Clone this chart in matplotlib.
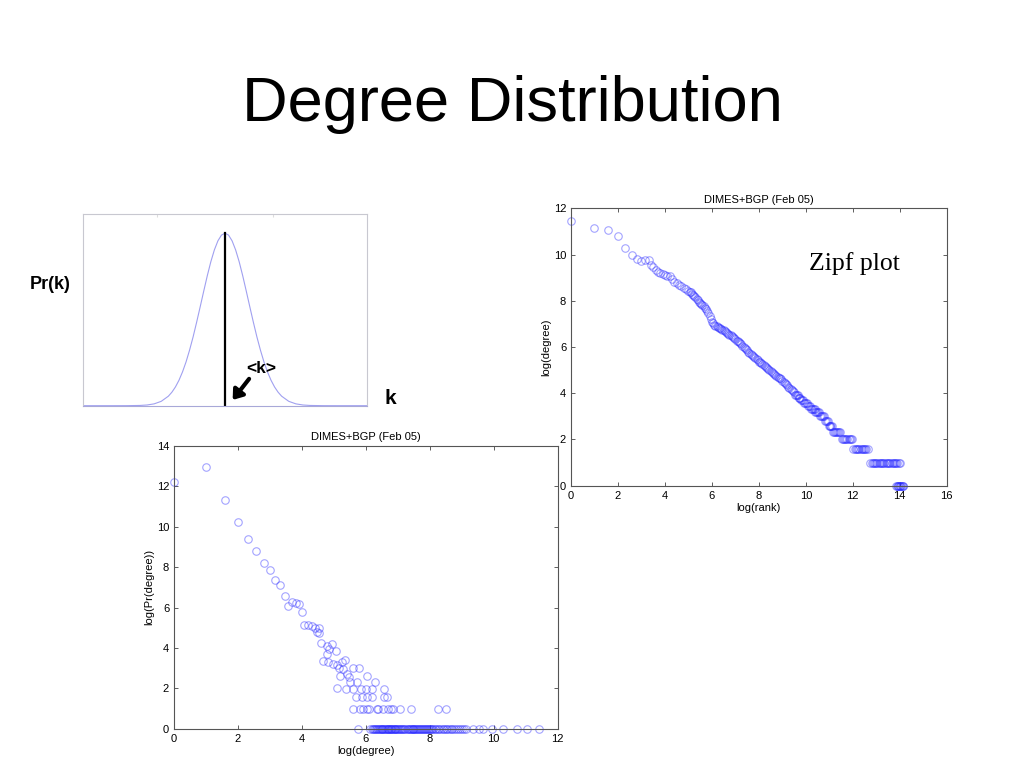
import matplotlib
matplotlib.use("Agg")
import matplotlib.pyplot as plt

plt.rcParams['font.family'] = ['Liberation Sans', 'DejaVu Sans']

# ---------------- data ----------------
# schematic bell curve (top-left panel)
gauss_k = [0.0, 1.0, 1.5, 2.0, 2.25, 2.5, 2.75, 3.0, 3.125, 3.25, 3.375, 3.5, 3.625, 3.75, 3.875,
           4.0, 4.125, 4.25, 4.375, 4.5, 4.625, 4.75, 4.875, 5.0, 5.125, 5.25, 5.375, 5.5, 5.625,
           5.75, 5.875, 6.0, 6.125, 6.25, 6.375, 6.5, 6.625, 6.75, 6.875, 7.0, 7.25, 7.5, 7.75,
           8.0, 8.5, 9.0, 10.0]
gauss_p = [0.0, 0.0, 0.0001, 0.0013, 0.0037, 0.0096, 0.0228, 0.0494, 0.0702, 0.0975, 0.1324,
           0.176, 0.2282, 0.290, 0.3592, 0.436, 0.5163, 0.598, 0.6779, 0.751, 0.8127, 0.860,
           0.8899, 0.900, 0.8899, 0.860, 0.8127, 0.751, 0.6779, 0.598, 0.5163, 0.436, 0.3592,
           0.290, 0.2282, 0.176, 0.1324, 0.0975, 0.0702, 0.0494, 0.0228, 0.0096, 0.0037,
           0.0013, 0.0001, 0.0, 0.0]
mean_k = 5.0

# Zipf plot: log(rank) vs log(degree) -- upper, sparse part
zipf_head_rank = [0.00, 1.00, 1.58, 2.00, 2.32, 2.58, 2.81, 3.00, 3.17, 3.32,
                  3.40, 3.50, 3.60, 3.70, 3.80, 3.90, 4.00, 4.10, 4.20, 4.30,
                  4.40, 4.50, 4.60, 4.70, 4.80, 4.90]
zipf_head_degree = [11.46, 11.15, 11.08, 10.79, 10.30, 9.97, 9.82, 9.72, 9.75, 9.75,
                    9.55, 9.45, 9.33, 9.24, 9.18, 9.14, 9.11, 9.09, 9.05, 8.93,
                    8.83, 8.75, 8.68, 8.62, 8.55, 8.49]
# dense middle part
zipf_body_rank = [
    5.00, 5.05, 5.10, 5.15, 5.20, 5.25, 5.30, 5.35, 5.40, 5.45,
    5.50, 5.55, 5.60, 5.65, 5.70, 5.75, 5.80, 5.85, 5.90, 5.95,
    6.00, 6.05, 6.10, 6.15, 6.20, 6.25, 6.30, 6.35, 6.40, 6.45,
    6.50, 6.55, 6.60, 6.65, 6.70, 6.75, 6.80, 6.85, 6.90, 6.95,
    7.00, 7.05, 7.10, 7.15, 7.20, 7.25, 7.30, 7.35, 7.40, 7.45,
    7.50, 7.55, 7.60, 7.65, 7.70, 7.75, 7.80, 7.85, 7.90, 7.95,
    8.00, 8.05, 8.10, 8.15, 8.20, 8.25, 8.30, 8.35, 8.40, 8.45,
    8.50, 8.55, 8.60, 8.65, 8.70, 8.75, 8.80, 8.85, 8.90, 8.95,
    9.00, 9.05, 9.10, 9.15, 9.20, 9.25, 9.30, 9.35, 9.40, 9.45, 9.50,
]
zipf_body_degree = [
    8.44, 8.40, 8.36, 8.31, 8.26, 8.21, 8.15, 8.09, 8.02, 7.95,
    7.89, 7.85, 7.81, 7.76, 7.70, 7.64, 7.57, 7.47, 7.36, 7.22,
    7.08, 7.02, 6.97, 6.93, 6.90, 6.87, 6.84, 6.81, 6.78, 6.75,
    6.72, 6.69, 6.65, 6.61, 6.57, 6.54, 6.50, 6.46, 6.42, 6.38,
    6.33, 6.28, 6.24, 6.20, 6.16, 6.11, 6.06, 6.01, 5.96, 5.90,
    5.85, 5.80, 5.75, 5.70, 5.66, 5.61, 5.57, 5.52, 5.47, 5.42,
    5.37, 5.33, 5.29, 5.25, 5.21, 5.17, 5.13, 5.09, 5.05, 5.01,
    4.97, 4.92, 4.88, 4.84, 4.80, 4.76, 4.72, 4.68, 4.64, 4.60,
    4.55, 4.50, 4.45, 4.40, 4.34, 4.29, 4.24, 4.19, 4.14, 4.09, 4.04,
]
# tail: integer-degree steps (level -> ranks on that level)
zipf_tail_levels = [3.91, 3.81, 3.70, 3.58, 3.46, 3.32, 3.17, 3.00, 2.81, 2.58, 2.32, 2.00, 1.58,
                    1.00, 0.00]
zipf_tail_ranks = [
    [9.53, 9.57, 9.61, 9.65],
    [9.69, 9.73, 9.77],
    [9.81, 9.85, 9.89],
    [9.93, 9.97, 10.01, 10.05],
    [10.09, 10.13, 10.17],
    [10.21, 10.25, 10.29, 10.33, 10.37],
    [10.41, 10.45, 10.49, 10.53, 10.57],
    [10.61, 10.65, 10.69, 10.73, 10.77],
    [10.81, 10.85, 10.89, 10.93],
    [10.97, 11.01, 11.05, 11.09, 11.13],
    [11.17, 11.21, 11.25, 11.29, 11.33, 11.37, 11.41, 11.45],
    [11.52, 11.57, 11.62, 11.67, 11.72, 11.77, 11.82, 11.87, 11.92, 11.97],
    [12.03, 12.08, 12.13, 12.18, 12.23, 12.28, 12.33, 12.38, 12.43, 12.48, 12.53, 12.58, 12.63],
    [12.75, 12.80, 12.85, 12.90, 12.95, 13.00, 13.05, 13.10, 13.15, 13.20, 13.25, 13.30, 13.35,
     13.40, 13.45, 13.50, 13.55, 13.60, 13.65, 13.70, 13.75, 13.80, 13.85, 13.90, 13.95, 14.00],
    [13.85, 13.88, 13.91, 13.94, 13.97, 14.00, 14.03, 14.06, 14.09, 14.12, 14.15],
]

# Degree distribution: log(degree) vs log(Pr(degree)) -- scattered points
dist_log_degree = [
    0.00, 1.00, 1.58, 2.00, 2.32, 2.58, 2.81, 3.00, 3.17, 3.32, 3.46, 3.58, 3.70, 3.81, 3.91, 4.00,
    4.07, 4.20, 4.31, 4.41, 4.52, 4.46, 4.55, 4.59, 4.80, 4.93, 4.86, 5.07, 4.78,
    4.67, 4.83, 4.96, 5.09, 5.24, 5.35, 5.17, 5.30, 5.61, 5.79,
    5.19, 5.42, 5.48, 6.03, 5.51, 5.72, 6.29,
    5.11, 5.38, 5.59, 5.84, 6.00, 6.18, 6.58,
    5.69, 5.87, 6.03, 6.18, 6.58, 6.67,
]
dist_log_pr = [
    12.20, 12.95, 11.33, 10.22, 9.38, 8.80, 8.22, 7.85, 7.37, 7.10, 6.59, 6.09, 6.28, 6.23, 6.16, 5.80,
    5.14, 5.14, 5.07, 4.97, 4.97, 4.78, 4.72, 4.23, 4.11, 4.18, 3.95, 3.85, 3.69,
    3.36, 3.32, 3.19, 3.16, 3.32, 3.39, 3.02, 2.96, 2.99, 2.99,
    2.63, 2.73, 2.58, 2.61, 2.30, 2.30, 2.30,
    2.00, 1.97, 1.97, 1.97, 1.97, 1.97, 1.97,
    1.58, 1.58, 1.58, 1.58, 1.58, 1.58,
]
# degrees seen twice (log Pr = 1) and once (log Pr = 0)
dist_row_twice = [5.61, 5.82, 5.92, 6.03, 6.11, 6.34, 6.39, 6.55, 6.70, 6.78, 6.86, 7.07, 7.41,
                  8.27, 8.51]
dist_row_once = [5.77, 6.13, 6.20, 6.23, 6.27, 6.30, 6.33, 6.36, 6.39, 6.42, 6.44, 6.47, 6.50,
                 6.52, 6.55, 6.58, 6.60, 6.62, 6.65, 6.68, 6.70, 6.72, 6.75, 6.78, 6.80, 6.83,
                 6.85, 6.88, 6.90, 6.92, 6.95, 6.98, 7.00, 7.03, 7.06, 7.09, 7.12, 7.16, 7.20,
                 7.24, 7.28, 7.31, 7.34, 7.37, 7.40, 7.43, 7.46, 7.49, 7.52, 7.55, 7.58, 7.61,
                 7.64, 7.67, 7.70, 7.73, 7.76, 7.79, 7.82, 7.85, 7.88, 7.91, 7.94, 7.97, 8.00,
                 8.03, 8.07, 8.11, 8.15, 8.20, 8.25, 8.30, 8.35, 8.40, 8.45, 8.50, 8.55, 8.60,
                 8.65, 8.70, 8.75, 8.81, 8.87, 8.93, 9.00, 9.06, 9.12, 9.36, 9.55, 9.67, 9.94,
                 10.30, 10.72, 11.03, 11.40]

plot_title = "DIMES+BGP (Feb 05)"

# ---------------- figure ----------------
fig = plt.figure(figsize=(10.24, 7.68), dpi=100)
fig.text(0.5, 1 - 121 / 768, "Degree Distribution", ha="center", va="baseline", fontsize=45.5)

marker_kw = dict(linestyle="none", marker="o", markersize=5.4, markerfacecolor="none",
                 markeredgecolor=(0.15, 0.15, 1.0, 0.42), markeredgewidth=0.8, clip_on=False)
frame_col = "#555555"


def matlab_axes(ax):
    for s in ax.spines.values():
        s.set_color(frame_col)
        s.set_linewidth(0.8)
    ax.tick_params(direction="in", length=3, width=0.6, top=True, right=True,
                   labelsize=8, pad=3.5, color="#444444")


# top-left schematic
ax0 = fig.add_axes([83.3 / 1024, 1 - 405.7 / 768, 283.4 / 1024, 191.7 / 768])
ax0.plot(gauss_k, gauss_p, color="#a0a0f0", lw=0.8)
ax0.plot([mean_k, mean_k], [0, max(gauss_p)], color="black", lw=1.6)
ax0.set_xlim(0, 10)
ax0.set_ylim(0, 1)
ax0.set_xticks([2.6, 6.7])
ax0.set_yticks([])
ax0.tick_params(direction="in", length=2, top=True, bottom=False, labelbottom=False,
                color="#dddddd")
for s in ax0.spines.values():
    s.set_color("#c8c8d0")
    s.set_linewidth(0.8)
ax0.spines["bottom"].set_color("#a8a8d8")
ax0.text(6.28, 0.196, "<k>", ha="center", va="center", fontsize=12.5, fontweight="bold")
ax0.annotate("", xy=(5.27, 0.03), xytext=(5.85, 0.14),
             arrowprops=dict(arrowstyle="-|>,head_length=0.55,head_width=0.4",
                             lw=3.0, color="black", shrinkA=0, shrinkB=0))
fig.text(50 / 1024, 1 - 284 / 768, "Pr(k)", ha="center", va="center", fontsize=13,
         fontweight="bold")
fig.text(390 / 1024, 1 - 399 / 768, "k", ha="center", va="center", fontsize=15,
         fontweight="bold")

# bottom: degree distribution
ax2 = fig.add_axes([174 / 1024, 1 - 728.8 / 768, 383.7 / 1024, 282.8 / 768])
ax2.plot(dist_log_degree, dist_log_pr, **marker_kw)
ax2.plot(dist_row_twice, [1.0] * len(dist_row_twice), **marker_kw)
ax2.plot(dist_row_once, [0.0] * len(dist_row_once), **marker_kw)
ax2.set_xlim(0, 12)
ax2.set_ylim(0, 14)
ax2.set_xticks(range(0, 13, 2))
ax2.set_yticks(range(0, 15, 2))
matlab_axes(ax2)
ax2.set_title(plot_title, fontsize=8, pad=4)
ax2.set_xlabel("log(degree)", fontsize=8, labelpad=1.5)
ax2.set_ylabel("log(Pr(degree))", fontsize=8, labelpad=2)

# top-right: Zipf plot
ax1 = fig.add_axes([571 / 1024, 1 - 485.7 / 768, 375.7 / 1024, 277.4 / 768])
ax1.plot(zipf_head_rank, zipf_head_degree, **marker_kw)
ax1.plot(zipf_body_rank, zipf_body_degree, **marker_kw)
for level, ranks in zip(zipf_tail_levels, zipf_tail_ranks):
    ax1.plot(ranks, [level] * len(ranks), **marker_kw)
ax1.set_xlim(0, 16)
ax1.set_ylim(0, 12)
ax1.set_xticks(range(0, 17, 2))
ax1.set_yticks(range(0, 13, 2))
matlab_axes(ax1)
ax1.set_title(plot_title, fontsize=8, pad=4)
ax1.set_xlabel("log(rank)", fontsize=8, labelpad=1.5)
ax1.set_ylabel("log(degree)", fontsize=8, labelpad=2)
ax1.text(854 / 1024, 1 - 264 / 768, "Zipf plot", transform=fig.transFigure, ha="center",
         va="center", fontsize=18.5, family=["Liberation Serif", "DejaVu Serif"])

fig.savefig("out.png", dpi=100)
